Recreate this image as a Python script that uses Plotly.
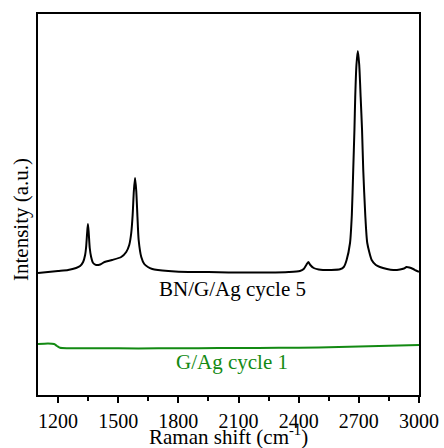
import plotly.graph_objects as go

# BN/G/Ag cycle 5 spectrum (Raman shift, intensity a.u.)
bn_shift = [1100, 1150, 1200, 1250, 1290, 1310, 1325, 1335, 1340, 1345, 1349, 1353, 1358, 1365,
            1375, 1390, 1410, 1432, 1470, 1515, 1540, 1555, 1565, 1572, 1578, 1584, 1590, 1596,
            1602, 1615, 1630, 1648, 1670, 1698, 1750, 1850, 1950, 2050, 2150, 2250, 2350, 2406,
            2425, 2438, 2448, 2458, 2475, 2500, 2521, 2560, 2606, 2625, 2639, 2656, 2665, 2672,
            2678, 2682, 2688, 2695, 2702, 2709, 2716, 2722, 2732, 2742, 2764, 2785, 2805, 2840,
            2872, 2905, 2925, 2938, 2952, 2971, 2985, 3000]
bn_int = [122, 123, 124, 125, 127, 129, 133, 140, 148, 162, 171, 162, 147, 138,
          132, 130, 130.5, 133, 135, 138, 143, 150, 162, 180, 204, 217, 204, 178,
          155, 138, 131, 128, 126, 125, 124, 123, 123, 122.5, 122.5, 122.5, 123, 124,
          126, 130, 133, 130, 127, 125.5, 125, 125, 125.7, 128, 135, 152, 180, 225,
          265, 298, 330, 344, 330, 298, 265, 225, 180, 152, 135, 130, 128, 126,
          125, 125.5, 126.5, 128, 127.5, 126, 124.5, 123.3]

# G/Ag cycle 1 spectrum
g_shift = [1100, 1150, 1180, 1195, 1210, 1250, 1400, 1600, 1800, 2000, 2200, 2400, 2600, 2800, 3000]
g_int = [51, 51.5, 51, 49, 47.2, 46.8, 46.8, 46.6, 46.8, 46.9, 47, 47.3, 48, 49, 50]

x_ticks = [1200, 1500, 1800, 2100, 2400, 2700, 3000]
labels = ["BN/G/Ag cycle 5", "G/Ag cycle 1"]
x_title = "Raman shift (cm<sup>-1</sup>)"
y_title = "Intensity (a.u.)"

font_family = "Liberation Serif, Times New Roman, serif"

fig = go.Figure()
fig.add_trace(go.Scatter(x=bn_shift, y=bn_int, mode="lines",
                         line=dict(color="black", width=2, shape="spline", smoothing=0.6),
                         showlegend=False))
fig.add_trace(go.Scatter(x=g_shift, y=g_int, mode="lines",
                         line=dict(color="#138a13", width=2, shape="spline", smoothing=0.6),
                         showlegend=False))

fig.add_annotation(x=2072, y=106, text=labels[0], showarrow=False,
                   font=dict(family=font_family, size=21, color="black"))
fig.add_annotation(x=2067, y=33, text=labels[1], showarrow=False,
                   font=dict(family=font_family, size=21, color="#138a13"))

# axis titles as annotations (paper coordinates)
fig.add_annotation(xref="paper", yref="paper", x=0.5, y=0, yshift=-55, yanchor="bottom",
                   text=x_title, showarrow=False, borderpad=0,
                   font=dict(family=font_family, size=21, color="black"))
fig.add_annotation(xref="paper", yref="paper", x=0, xshift=-17, xanchor="center",
                   y=(395 - 220) / 381, yanchor="middle", textangle=-90,
                   text=y_title, showarrow=False,
                   font=dict(family=font_family, size=21, color="black"))

fig.update_layout(
    width=444, height=448,
    margin=dict(l=38, r=25, t=14, b=53),
    paper_bgcolor="white", plot_bgcolor="white",
    font=dict(family=font_family, size=20, color="black"),
    xaxis=dict(range=[1100, 3000], tickvals=x_ticks, ticks="outside", ticklen=6, tickwidth=1.5,
               tickcolor="black", showline=True, linewidth=2, linecolor="black", mirror=True,
               showgrid=False, zeroline=False, automargin=False, ticklabelstandoff=1,
               minor=dict(tickvals=[1350, 1650, 1950, 2250, 2550, 2850], ticks="outside",
                          ticklen=4, tickwidth=1.5, tickcolor="black"),
               tickfont=dict(family=font_family, size=20)),
    yaxis=dict(range=[0, 381], showticklabels=False, ticks="", showline=True, linewidth=2,
               linecolor="black", mirror=True, showgrid=False, zeroline=False, automargin=False),
)

fig.write_html("out.html")
